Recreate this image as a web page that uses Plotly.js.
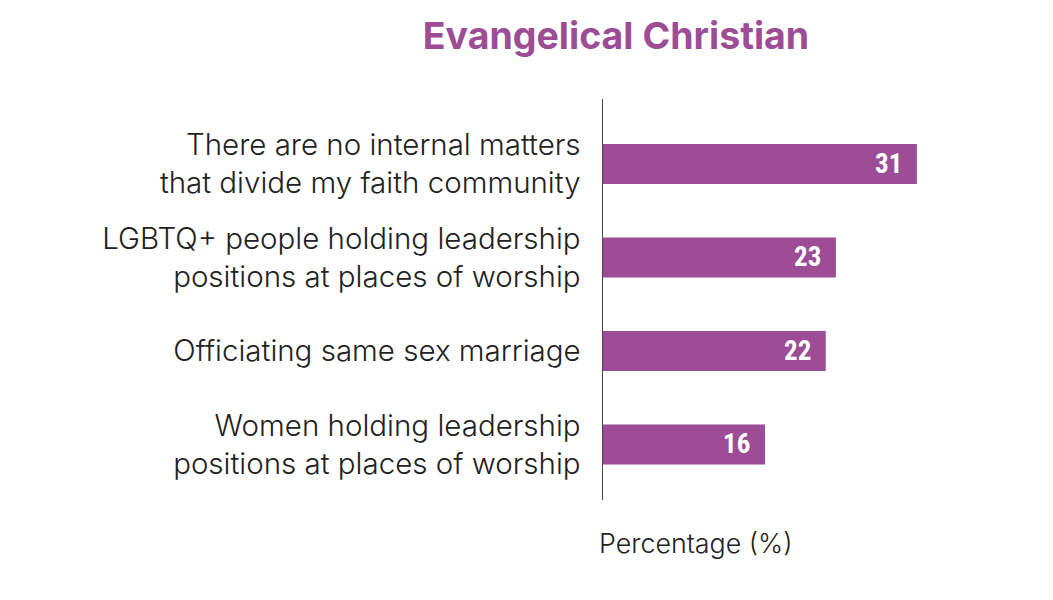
<!DOCTYPE html>
<html>
<head>
<meta charset="utf-8">
<script src="https://cdn.plot.ly/plotly-3.0.1.min.js"></script>
<style>html,body{margin:0;padding:0;background:#fff;}#chart{width:1053px;height:600px;}</style>
</head>
<body>
<div id="chart"></div>
<script>
var categories = [
  "There are no internal matters<br>that divide my faith community",
  "LGBTQ+ people holding leadership<br>positions at places of worship",
  "Officiating same sex marriage",
  "Women holding leadership<br>positions at places of worship"
];
var values = [31, 23, 22, 16];
var chartTitle = "Evangelical Christian";
var xTitle = "Percentage (%)";

var purple = "#9c4d96";
var textColor = "#222222";
var font = "Inter, 'Open Sans', sans-serif";

var ids = categories.map(function(c, i){ return "c" + i; });

var trace = {
  type: "bar",
  orientation: "h",
  x: values,
  y: ids,
  marker: {color: purple},
  width: 0.428,
  hoverinfo: "skip"
};

var annotations = values.map(function(v, i){
  return {
    x: v, y: ids[i], xref: "x", yref: "y",
    text: String(v), showarrow: false,
    xanchor: "right", yanchor: "middle", xshift: -13, yshift: 0,
    font: {family: "'Roboto Condensed', Roboto, sans-serif", size: 27, color: "#ffffff", weight: "bold"}
  };
});
annotations.push({
  x: 0, xref: "x", xanchor: "left", xshift: -6,
  y: (600 - 100 - 543) / 401, yref: "paper", yanchor: "middle",
  text: xTitle, showarrow: false,
  font: {family: font, size: 26.8, color: textColor, weight: 300}
});

var layout = {
  width: 1053, height: 600,
  margin: {l: 603, r: 45, t: 99, b: 100},
  paper_bgcolor: "#ffffff", plot_bgcolor: "#ffffff",
  showlegend: false,
  title: {
    text: "<b>" + chartTitle + "</b>",
    x: 616/1053, xref: "container", xanchor: "center",
    y: 1 - 36/600, yref: "container", yanchor: "middle",
    font: {family: font, size: 37.5, color: purple}
  },
  xaxis: {
    range: [0, 40], showgrid: false, zeroline: false, showline: false,
    showticklabels: false, ticks: "", fixedrange: true
  },
  yaxis: {
    type: "category",
    range: [3.594, -0.695],
    tickvals: ids, ticktext: categories,
    showgrid: false, zeroline: false,
    showline: true, linecolor: "#444444", linewidth: 1.5,
    ticks: "", ticklabelstandoff: 15,
    tickfont: {family: font, size: 29.5, color: textColor, weight: 300}
  },
  annotations: annotations
};

Plotly.newPlot("chart", [trace], layout, {displayModeBar: false, staticPlot: true});
</script>
</body>
</html>
